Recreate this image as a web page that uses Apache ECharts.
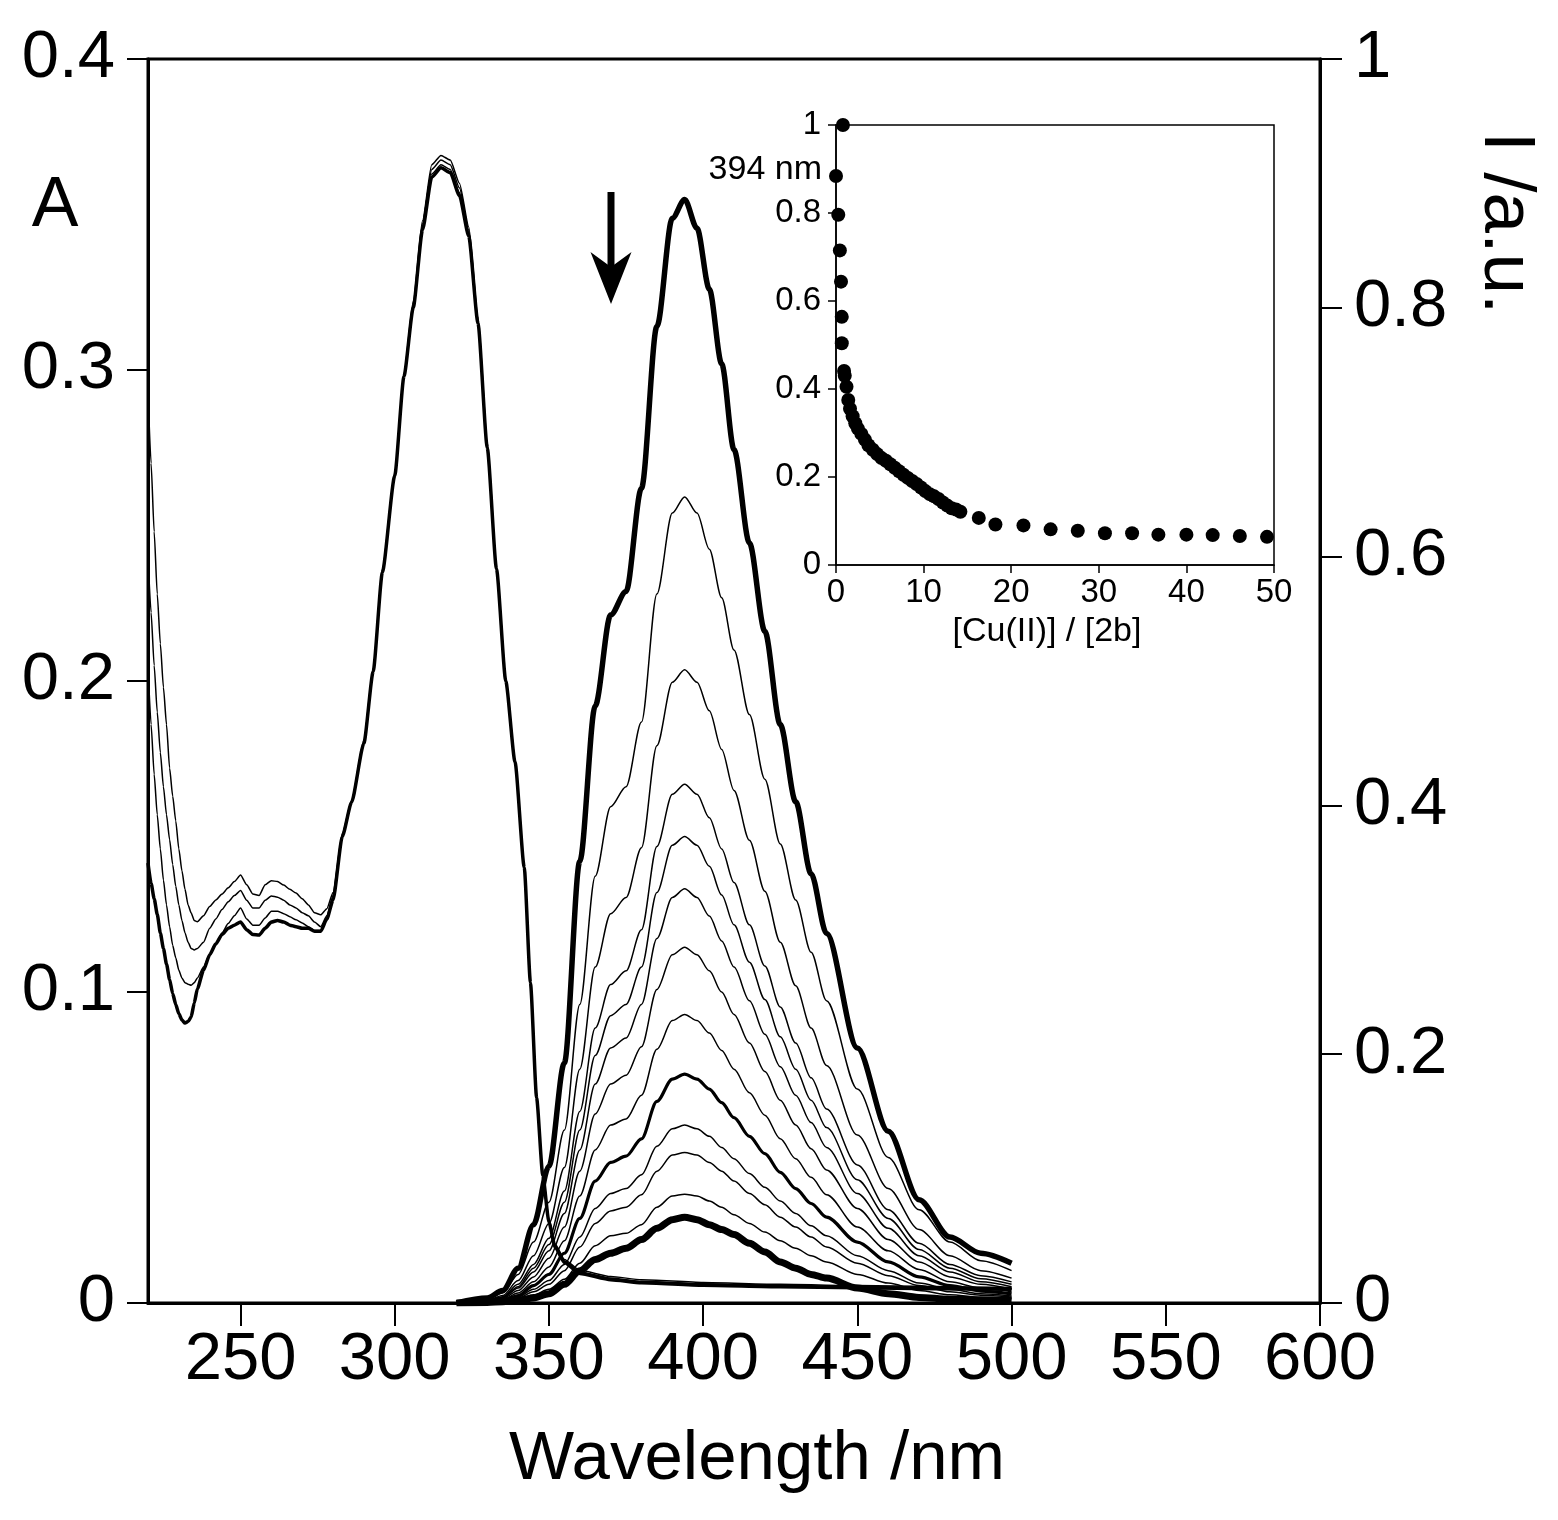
<!DOCTYPE html>
<html><head><meta charset="utf-8">
<script src="https://cdn.jsdelivr.net/npm/echarts@6/dist/echarts.min.js"></script>
<style>html,body{margin:0;padding:0;background:#fff}#c{width:1558px;height:1520px}</style>
</head><body><div id="c"></div>
<script>
// ---- tick values ----
const xTicks = [250, 300, 350, 400, 450, 500, 550, 600];

// ---- absorption spectra (left axis, A) ----
const absWl = [220,221,222,223,224,225,226,227,228,229,230,231,232,233,234,235,236,238,240,242,244,246,248,250,252,254,256,258,260,262,264,266,268,270,272,274,276,278,280,283,286,290,293,296,300,303,306,309,312,315,318,321,324,327,330,333,336,339,342,344,346,348,350,352,355,360,370,380,400,425,450,475,500];
const absA1 = [0.293,0.270,0.248,0.228,0.212,0.198,0.186,0.172,0.163,0.155,0.146,0.139,0.133,0.128,0.1254,0.123,0.1226,0.1245,0.1275,0.1296,0.1315,0.1335,0.1355,0.1376,0.1345,0.1315,0.131,0.1345,0.1358,0.1355,0.1344,0.133,0.1318,0.130,0.128,0.1255,0.1248,0.1268,0.132,0.151,0.1615,0.181,0.204,0.236,0.267,0.299,0.322,0.348,0.366,0.369,0.3675,0.360,0.346,0.317,0.277,0.237,0.201,0.175,0.141,0.104,0.067,0.042,0.027,0.019,0.014,0.0105,0.0085,0.0075,0.0066,0.006,0.0056,0.0053,0.005];
const absA2 = [0.240,0.222,0.205,0.190,0.177,0.166,0.157,0.149,0.141,0.134,0.128,0.123,0.119,0.116,0.114,0.1135,0.114,0.116,0.1205,0.1235,0.1265,0.129,0.131,0.1326,0.1295,0.127,0.127,0.1295,0.1309,0.1305,0.1295,0.128,0.127,0.1255,0.1245,0.1225,0.121,0.1245,0.131,0.1505,0.161,0.1805,0.2035,0.2355,0.2665,0.2985,0.321,0.347,0.3645,0.3675,0.366,0.3585,0.345,0.316,0.276,0.2365,0.2005,0.1745,0.1405,0.1035,0.0665,0.0415,0.0265,0.0185,0.0135,0.010,0.008,0.007,0.0062,0.0057,0.0053,0.005,0.0047];
const absA3 = [0.205,0.186,0.170,0.157,0.146,0.136,0.128,0.121,0.115,0.111,0.107,0.1045,0.103,0.1025,0.1022,0.103,0.1045,0.108,0.112,0.1155,0.119,0.122,0.1245,0.127,0.1235,0.1215,0.1215,0.1238,0.126,0.126,0.1252,0.1242,0.1232,0.1222,0.121,0.1198,0.1198,0.1238,0.1302,0.1502,0.1612,0.1802,0.2032,0.2352,0.2662,0.2982,0.3205,0.346,0.363,0.366,0.3645,0.357,0.344,0.3155,0.2755,0.2362,0.2002,0.1742,0.1402,0.1032,0.0662,0.0412,0.0262,0.0182,0.0132,0.0098,0.0078,0.0068,0.006,0.0055,0.0051,0.0048,0.0046];
const absBold = [0.1415,0.135,0.130,0.125,0.119,0.114,0.109,0.104,0.0995,0.096,0.093,0.091,0.090,0.0905,0.092,0.0965,0.101,0.107,0.112,0.1155,0.1185,0.1205,0.1215,0.1225,0.120,0.1185,0.1183,0.1205,0.1225,0.123,0.1225,0.1215,0.121,0.1205,0.1205,0.1195,0.1195,0.1235,0.1296,0.150,0.161,0.180,0.203,0.235,0.266,0.298,0.320,0.345,0.362,0.365,0.3635,0.356,0.343,0.315,0.275,0.236,0.200,0.174,0.140,0.103,0.066,0.041,0.026,0.018,0.013,0.0095,0.0075,0.0065,0.0057,0.0052,0.0049,0.0046,0.0044];

// ---- fluorescence spectra (right axis, I / a.u.) ----
const fluWl = [320,330,335,340,345,350,355,360,365,370,375,380,385,390,394,398,402,406,410,415,420,425,430,435,440,450,460,470,480,490,500];
const flu1  = [0,0.004,0.010,0.028,0.063,0.110,0.193,0.355,0.480,0.553,0.572,0.655,0.785,0.872,0.887,0.864,0.815,0.755,0.686,0.611,0.540,0.465,0.403,0.345,0.297,0.205,0.138,0.083,0.053,0.040,0.032];
const flu2  = [0,0.003,0.008,0.023,0.049,0.081,0.139,0.240,0.343,0.399,0.415,0.467,0.570,0.635,0.648,0.635,0.606,0.567,0.525,0.473,0.421,0.369,0.324,0.282,0.243,0.172,0.117,0.075,0.049,0.034,0.026];
const flu3  = [0,0.002,0.006,0.018,0.038,0.064,0.109,0.188,0.270,0.313,0.326,0.366,0.448,0.499,0.509,0.499,0.476,0.445,0.412,0.372,0.331,0.290,0.255,0.221,0.191,0.135,0.092,0.059,0.038,0.026,0.020];
const flu4  = [0,0.002,0.005,0.015,0.031,0.052,0.090,0.154,0.221,0.256,0.267,0.300,0.367,0.409,0.417,0.409,0.390,0.365,0.338,0.304,0.271,0.238,0.209,0.181,0.156,0.111,0.075,0.048,0.031,0.022,0.017];
const flu5  = [0,0.0015,0.0045,0.013,0.028,0.047,0.081,0.139,0.199,0.231,0.240,0.270,0.330,0.368,0.375,0.368,0.351,0.328,0.304,0.274,0.244,0.214,0.188,0.163,0.141,0.099,0.068,0.043,0.028,0.0195,0.015];
const flu6  = [0,0.0013,0.004,0.012,0.025,0.042,0.072,0.123,0.176,0.205,0.213,0.240,0.293,0.326,0.333,0.326,0.311,0.291,0.270,0.243,0.216,0.190,0.167,0.145,0.125,0.088,0.060,0.038,0.025,0.017,0.013];
const flu7  = [0,0.0011,0.0034,0.010,0.021,0.036,0.061,0.106,0.152,0.176,0.183,0.206,0.252,0.280,0.286,0.280,0.267,0.250,0.232,0.209,0.186,0.163,0.143,0.124,0.107,0.076,0.051,0.033,0.021,0.015,0.011];
const flu8  = [0,0.0009,0.0028,0.008,0.017,0.029,0.050,0.086,0.123,0.143,0.148,0.167,0.204,0.227,0.232,0.227,0.217,0.203,0.188,0.169,0.151,0.132,0.116,0.101,0.087,0.061,0.042,0.027,0.017,0.012,0.009];
const flu9  = [0,0.0007,0.0022,0.006,0.014,0.023,0.040,0.068,0.098,0.113,0.118,0.132,0.162,0.180,0.184,0.180,0.172,0.161,0.149,0.134,0.120,0.105,0.092,0.080,0.069,0.049,0.033,0.021,0.014,0.0096,0.0074];
const flu10 = [0,0.0006,0.0017,0.005,0.011,0.018,0.031,0.053,0.076,0.088,0.092,0.103,0.126,0.140,0.143,0.140,0.134,0.125,0.116,0.104,0.093,0.082,0.072,0.062,0.054,0.038,0.026,0.016,0.011,0.0074,0.0057];
const flu11 = [0,0.0005,0.0015,0.004,0.009,0.015,0.026,0.045,0.064,0.074,0.077,0.087,0.106,0.119,0.121,0.119,0.113,0.106,0.098,0.088,0.079,0.069,0.061,0.053,0.045,0.032,0.022,0.014,0.009,0.0063,0.0048];
const flu12 = [0,0.0004,0.001,0.003,0.0066,0.011,0.019,0.032,0.046,0.054,0.056,0.063,0.077,0.086,0.0875,0.086,0.082,0.077,0.071,0.064,0.057,0.050,0.044,0.038,0.033,0.023,0.016,0.010,0.0066,0.0046,0.0035];
const flu13 = [0,0.0005,0.001,0.002,0.004,0.0075,0.015,0.026,0.035,0.040,0.044,0.051,0.060,0.067,0.069,0.067,0.063,0.059,0.055,0.048,0.041,0.033,0.028,0.023,0.020,0.012,0.0075,0.0045,0.003,0.0025,0.002];

// ---- inset: normalized intensity at 394 nm vs [Cu(II)]/[2b] ----
const insetX = [0.79,0,0.26,0.44,0.57,0.66,0.66,0.92,1.0,1.2,1.4,1.6,1.9,2.2,2.5,2.9,3.3,3.7,4.2,4.7,5.2,5.7,6.2,6.7,7.2,7.7,8.2,8.7,9.2,9.7,10.2,10.7,11.2,11.7,12.2,12.7,13.2,13.7,14.2,16.3,18.2,21.4,24.5,27.6,30.7,33.8,36.8,40.0,43.0,46.1,49.2];
const insetY = [1.0,0.884,0.796,0.715,0.644,0.564,0.504,0.441,0.43,0.405,0.375,0.355,0.338,0.322,0.31,0.298,0.285,0.272,0.262,0.252,0.243,0.237,0.229,0.221,0.213,0.205,0.198,0.191,0.184,0.176,0.168,0.161,0.156,0.150,0.142,0.135,0.129,0.126,0.121,0.107,0.092,0.090,0.081,0.078,0.072,0.072,0.069,0.069,0.068,0.066,0.064];

const FONT = "'Liberation Sans', Arial, Helvetica, sans-serif";
const pairs = (xs, ys) => xs.map((x, i) => [x, ys[i]]);

const absList = [absA1, absA2, absA3, absBold];
const fluList = [flu1, flu2, flu3, flu4, flu5, flu6, flu7, flu8, flu9, flu10, flu11, flu12, flu13];
const fluWidth = [5.5, 1.5, 1.5, 1.5, 1.5, 1.5, 1.5, 1.5, 3.2, 1.5, 1.5, 1.5, 7];

const series = [];
absList.forEach((arr, i) => series.push({
  type: 'line', xAxisIndex: 0, yAxisIndex: 0, data: pairs(absWl, arr),
  symbol: 'none', smooth: 0.2, smoothMonotone: 'x', silent: true,
  lineStyle: { color: '#000', width: i === 3 ? 3.5 : 1.5 }
}));
fluList.forEach((arr, i) => series.push({
  type: 'line', xAxisIndex: 0, yAxisIndex: 1, data: pairs(fluWl, arr),
  symbol: 'none', smooth: 0.3, smoothMonotone: 'x', silent: true,
  lineStyle: { color: '#000', width: fluWidth[i] }
}));
series.push({
  type: 'scatter', xAxisIndex: 1, yAxisIndex: 2, data: pairs(insetX, insetY),
  symbol: 'circle', symbolSize: 14, itemStyle: { color: '#000', opacity: 1 }, silent: true
});

const bigLabel = { color: '#000', fontFamily: FONT, fontSize: 67 };
const smallLabel = { color: '#000', fontFamily: FONT, fontSize: 33 };

const option = {
  animation: false,
  backgroundColor: '#fff',
  grid: [
    { left: 148, top: 59, width: 1172, height: 1244, show: true, borderColor: '#000', borderWidth: 3, containLabel: false },
    { left: 836, top: 125, width: 438, height: 440, show: true, borderColor: '#000', borderWidth: 1.5, containLabel: false }
  ],
  xAxis: [
    { type: 'value', gridIndex: 0, min: 220, max: 600,
      axisLine: { show: true, lineStyle: { color: '#000', width: 3 } },
      axisTick: { show: true, customValues: xTicks, length: 23, lineStyle: { color: '#000', width: 2 } },
      axisLabel: Object.assign({ customValues: xTicks, margin: 24 }, bigLabel),
      splitLine: { show: false } },
    { type: 'value', gridIndex: 1, min: 0, max: 50, interval: 10,
      axisLine: { show: true, lineStyle: { color: '#000', width: 1.5 } },
      axisTick: { show: true, length: 8, lineStyle: { color: '#000', width: 1.5 } },
      axisLabel: Object.assign({ margin: 11 }, smallLabel),
      splitLine: { show: false } }
  ],
  yAxis: [
    { type: 'value', gridIndex: 0, position: 'left', min: 0, max: 0.4, interval: 0.1,
      axisLine: { show: true, lineStyle: { color: '#000', width: 3 } },
      axisTick: { show: true, length: 21, lineStyle: { color: '#000', width: 2 } },
      axisLabel: Object.assign({ margin: 33, padding: [0, 0, 16, 0] }, bigLabel),
      splitLine: { show: false } },
    { type: 'value', gridIndex: 0, position: 'right', min: 0, max: 1, interval: 0.2,
      axisLine: { show: true, lineStyle: { color: '#000', width: 3 } },
      axisTick: { show: true, length: 22, lineStyle: { color: '#000', width: 2 } },
      axisLabel: Object.assign({ margin: 34, padding: [0, 0, 16, 0] }, bigLabel),
      splitLine: { show: false } },
    { type: 'value', gridIndex: 1, position: 'left', min: 0, max: 1, interval: 0.2,
      axisLine: { show: true, lineStyle: { color: '#000', width: 1.5 } },
      axisTick: { show: true, length: 8, lineStyle: { color: '#000', width: 1.5 } },
      axisLabel: Object.assign({ margin: 15, padding: [0, 0, 8, 0] }, smallLabel),
      splitLine: { show: false } }
  ],
  graphic: [
    { type: 'text', x: 55, y: 207, silent: true,
      style: { text: 'A', fill: '#000', font: '70px ' + FONT, textAlign: 'center', textVerticalAlign: 'middle', align: 'center', verticalAlign: 'middle' } },
    { type: 'text', x: 1505, y: 223, rotation: -Math.PI / 2, silent: true,
      style: { text: 'I /a.u.', fill: '#000', font: '73px ' + FONT, textAlign: 'center', textVerticalAlign: 'middle', align: 'center', verticalAlign: 'middle' } },
    { type: 'text', x: 757, y: 1460, silent: true,
      style: { text: 'Wavelength /nm', fill: '#000', font: '69px ' + FONT, textAlign: 'center', textVerticalAlign: 'middle', align: 'center', verticalAlign: 'middle' } },
    { type: 'text', x: 822, y: 170, silent: true,
      style: { text: '394 nm', fill: '#000', font: '34px ' + FONT, textAlign: 'right', textVerticalAlign: 'middle', align: 'right', verticalAlign: 'middle' } },
    { type: 'text', x: 1047, y: 632, silent: true,
      style: { text: '[Cu(II)] / [2b]', fill: '#000', font: '34px ' + FONT, textAlign: 'center', textVerticalAlign: 'middle', align: 'center', verticalAlign: 'middle' } },
    { type: 'rect', silent: true, shape: { x: 607.5, y: 192, width: 7, height: 78 }, style: { fill: '#000' } },
    { type: 'polygon', silent: true, shape: { points: [[590.5, 252], [611, 304], [631.5, 252], [611, 267]] }, style: { fill: '#000' } }
  ],
  series: series
};

const chart = echarts.init(document.getElementById('c'), null, { renderer: 'canvas' });
chart.setOption(option);
</script>
</body></html>
